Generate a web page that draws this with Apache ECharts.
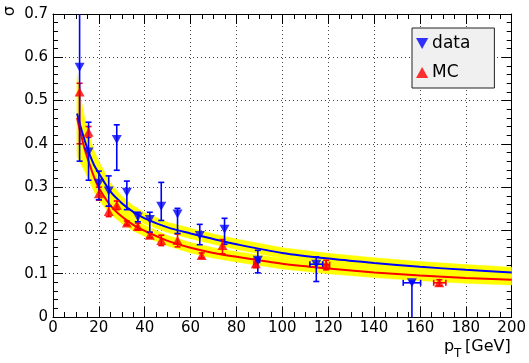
<!DOCTYPE html>
<html><head><meta charset="utf-8">
<script src="https://cdn.jsdelivr.net/npm/echarts@6/dist/echarts.min.js"></script>
<style>html,body{margin:0;padding:0;background:#fff}#c{width:529px;height:363px}</style>
</head><body><div id="c"></div>
<script>
// ---- data ----
var xTicks = [0, 20, 40, 60, 80, 100, 120, 140, 160, 180, 200];
var yTicks = [0, 0.1, 0.2, 0.3, 0.4, 0.5, 0.6, 0.7];

// "data" points (blue, down triangles)
var dataPt    = [11.6, 15.5, 20.0, 24.3, 27.8, 32.2, 37.0, 42.2, 47.2, 54.3, 64.0, 74.8, 89.3, 114.8, 156.5];
var dataSigma = [0.577, 0.381, 0.309, 0.291, 0.41, 0.288, 0.231, 0.225, 0.256, 0.238, 0.188, 0.203, 0.131, 0.122, 0.079];
var dataLo    = [0.36, 0.316, 0.271, 0.256, 0.339, 0.248, 0.22, 0.196, 0.223, 0.193, 0.167, 0.168, 0.102, 0.082, -0.02];
var dataHi    = [0.80, 0.45, 0.337, 0.326, 0.444, 0.314, 0.242, 0.242, 0.311, 0.251, 0.214, 0.228, 0.154, 0.139, 0.083];
var dataPtLo  = [11.6, 15.5, 20.0, 24.3, 27.8, 32.2, 37.0, 42.2, 47.2, 54.3, 64.0, 74.8, 88.5, 112.0, 152.7];
var dataPtHi  = [11.6, 15.5, 20.0, 24.3, 27.8, 32.2, 37.0, 42.2, 47.2, 54.3, 64.0, 74.8, 90.1, 117.6, 160.3];

// "MC" points (red, up triangles)
var mcPt    = [11.6, 15.5, 20.0, 24.3, 27.8, 32.2, 37.0, 42.2, 47.2, 54.3, 64.8, 73.9, 88.4, 119.1, 168.4];
var mcSigma = [0.52, 0.427, 0.285, 0.244, 0.258, 0.217, 0.209, 0.189, 0.177, 0.177, 0.142, 0.165, 0.123, 0.121, 0.079];
var mcLo    = [0.40, 0.415, 0.27, 0.232, 0.248, 0.212, 0.201, 0.183, 0.165, 0.162, 0.136, 0.146, 0.114, 0.109, 0.072];
var mcHi    = [0.54, 0.44, 0.30, 0.256, 0.268, 0.222, 0.217, 0.195, 0.189, 0.192, 0.148, 0.179, 0.135, 0.131, 0.086];
var mcPtLo  = [11.6, 15.5, 20.0, 24.3, 27.8, 32.2, 37.0, 42.2, 47.2, 54.3, 64.8, 73.9, 87.6, 117.6, 166.0];
var mcPtHi  = [11.6, 15.5, 20.0, 24.3, 27.8, 32.2, 37.0, 42.2, 47.2, 54.3, 64.8, 73.9, 89.2, 120.6, 171.3];

// fit curves read at these pT values
var fitPt    = [10.5, 12, 14, 16, 18, 20, 25, 30, 35, 40, 50, 60, 70, 80, 100, 120, 140, 160, 180, 200];
var fitData  = [0.47, 0.44, 0.405, 0.375, 0.35, 0.332, 0.29, 0.263, 0.243, 0.228, 0.207, 0.193, 0.18, 0.168, 0.148, 0.135, 0.125, 0.116, 0.109, 0.103];
var fitMC    = [0.46, 0.425, 0.385, 0.352, 0.322, 0.298, 0.258, 0.232, 0.213, 0.199, 0.176, 0.16, 0.148, 0.139, 0.123, 0.112, 0.103, 0.096, 0.09, 0.086];
// half width of the yellow uncertainty band around each fit
var bandHalf = [0.09, 0.07, 0.05, 0.04, 0.033, 0.028, 0.02, 0.016, 0.014, 0.013, 0.012, 0.012, 0.012, 0.012, 0.012, 0.012, 0.012, 0.012, 0.012, 0.012];

// ---- chart ----
var FONT = 'DejaVu Sans';
function zip(a, b) { return a.map(function (v, i) { return [v, b[i]]; }); }
function errRows(x, y, lo, hi, xl, xh) {
  return x.map(function (v, i) { return [v, y[i], lo[i], hi[i], xl[i], xh[i]]; });
}
function bandSeries(curve) {
  return {
    type: 'custom', z: 1, clip: true, silent: true,
    data: [[fitPt[0], curve[0]]],
    renderItem: function (params, api) {
      var pts = [];
      for (var i = 0; i < fitPt.length; i++) pts.push(api.coord([fitPt[i], curve[i] + bandHalf[i]]));
      for (var j = fitPt.length - 1; j >= 0; j--) pts.push(api.coord([fitPt[j], curve[j] - bandHalf[j]]));
      return { type: 'polygon', shape: { points: pts }, style: { fill: '#ffff00', stroke: '#ffff00', lineWidth: 0.5 } };
    }
  };
}
function errSeries(rows, color) {
  return {
    type: 'custom', z: 3, clip: true, silent: true,
    data: rows,
    encode: { x: 0, y: 1 },
    renderItem: function (params, api) {
      var x = api.value(0), y = api.value(1);
      var pl = api.coord([x, api.value(2)]), ph = api.coord([x, api.value(3)]);
      var st = { stroke: color, lineWidth: 1.6 };
      var ch = [
        { type: 'line', shape: { x1: pl[0], y1: pl[1], x2: ph[0], y2: ph[1] }, style: st },
        { type: 'line', shape: { x1: pl[0] - 3, y1: pl[1], x2: pl[0] + 3, y2: pl[1] }, style: st },
        { type: 'line', shape: { x1: ph[0] - 3, y1: ph[1], x2: ph[0] + 3, y2: ph[1] }, style: st }
      ];
      var xl = api.value(4), xh = api.value(5);
      if (xh > xl) {
        var a = api.coord([xl, y]), b = api.coord([xh, y]);
        ch.push({ type: 'line', shape: { x1: a[0], y1: a[1], x2: b[0], y2: b[1] }, style: st });
        ch.push({ type: 'line', shape: { x1: a[0], y1: a[1] - 3, x2: a[0], y2: a[1] + 3 }, style: st });
        ch.push({ type: 'line', shape: { x1: b[0], y1: b[1] - 3, x2: b[0], y2: b[1] + 3 }, style: st });
      }
      return { type: 'group', children: ch };
    }
  };
}

var axisCommon = {
  type: 'value',
  axisLine: { show: true, onZero: false, lineStyle: { color: '#000', width: 1 } },
  axisTick: { show: true, inside: true, length: 10, lineStyle: { color: '#000' } },
  minorTick: { show: true, length: 5, lineStyle: { color: '#000' } },
  splitLine: { show: false }
};
function ax(extra) { return Object.assign({}, JSON.parse(JSON.stringify(axisCommon)), extra); }

var chart = echarts.init(document.getElementById('c'), null, { renderer: 'canvas' });
chart.setOption({
  animation: false,
  backgroundColor: '#fff',
  textStyle: { fontFamily: FONT },
  grid: { left: 53, right: 17, top: 14, bottom: 46, containLabel: false },
  xAxis: [
    ax({ position: 'bottom', min: xTicks[0], max: xTicks[xTicks.length - 1], interval: xTicks[1] - xTicks[0],
      minorTick: { show: true, splitNumber: 4, length: 5, lineStyle: { color: '#000' } },
      axisLabel: { show: true, color: '#000', fontSize: 15, fontFamily: FONT, margin: 4 },
      splitLine: { show: true, lineStyle: { color: '#444', type: [1, 3], width: 1 } } }),
    ax({ position: 'top', min: xTicks[0], max: xTicks[xTicks.length - 1], interval: xTicks[1] - xTicks[0],
      minorTick: { show: true, splitNumber: 4, length: 5, lineStyle: { color: '#000' } },
      axisLabel: { show: false } })
  ],
  yAxis: [
    ax({ position: 'left', min: yTicks[0], max: yTicks[yTicks.length - 1], interval: 0.1,
      minorTick: { show: true, splitNumber: 5, length: 5, lineStyle: { color: '#000' } },
      axisLabel: { show: true, color: '#000', fontSize: 15, fontFamily: FONT, margin: 5,
        formatter: function (v) { return String(Math.round(v * 10) / 10); } },
      splitLine: { show: true, lineStyle: { color: '#444', type: [1, 3], width: 1 } } }),
    ax({ position: 'right', min: yTicks[0], max: yTicks[yTicks.length - 1], interval: 0.1,
      minorTick: { show: true, splitNumber: 5, length: 5, lineStyle: { color: '#000' } },
      axisLabel: { show: false } })
  ],
  legend: {
    left: 412, top: 28, orient: 'vertical',
    backgroundColor: '#f0f0f0', borderColor: '#222', borderWidth: 1,
    padding: [7, 24, 7, 4], itemGap: 12, itemWidth: 14, itemHeight: 11,
    textStyle: { fontSize: 17, color: '#000', fontFamily: FONT, padding: [0, 0, 0, -2] },
    data: [
      { name: 'data', icon: 'path://M0,0L10,0L5,9Z' },
      { name: 'MC', icon: 'path://M5,0L10,9L0,9Z' }
    ]
  },
  graphic: [
    { type: 'text', left: 2, top: 6, rotation: Math.PI / 2, style: { text: 'σ', font: '16px "DejaVu Sans"', fill: '#000' } },
    { type: 'text', left: 444, top: 339, style: { text: 'p', font: '16px "DejaVu Sans"', fill: '#000' } },
    { type: 'text', left: 454, top: 348, style: { text: 'T', font: '12px "DejaVu Sans"', fill: '#000' } },
    { type: 'text', left: 465, top: 339, style: { text: '[GeV]', font: '16px "DejaVu Sans"', fill: '#000' } }
  ],
  series: [
    bandSeries(fitData),
    bandSeries(fitMC),
    { type: 'line', z: 2, data: zip(fitPt, fitMC), smooth: 0.3, showSymbol: false, silent: true,
      lineStyle: { color: '#ff0000', width: 2 } },
    { type: 'line', z: 2, data: zip(fitPt, fitData), smooth: 0.3, showSymbol: false, silent: true,
      lineStyle: { color: '#0000ff', width: 2 } },
    errSeries(errRows(mcPt, mcSigma, mcLo, mcHi, mcPtLo, mcPtHi), '#ff0000'),
    errSeries(errRows(dataPt, dataSigma, dataLo, dataHi, dataPtLo, dataPtHi), '#0000ff'),
    { name: 'MC', type: 'scatter', z: 4, data: zip(mcPt, mcSigma), symbol: 'triangle', symbolSize: [10, 9],
      itemStyle: { color: '#ff0000' } },
    { name: 'data', type: 'scatter', z: 4, data: zip(dataPt, dataSigma), symbol: 'triangle', symbolRotate: 180,
      symbolSize: [10, 9], itemStyle: { color: '#0000ff' } }
  ]
});
</script></body></html>
